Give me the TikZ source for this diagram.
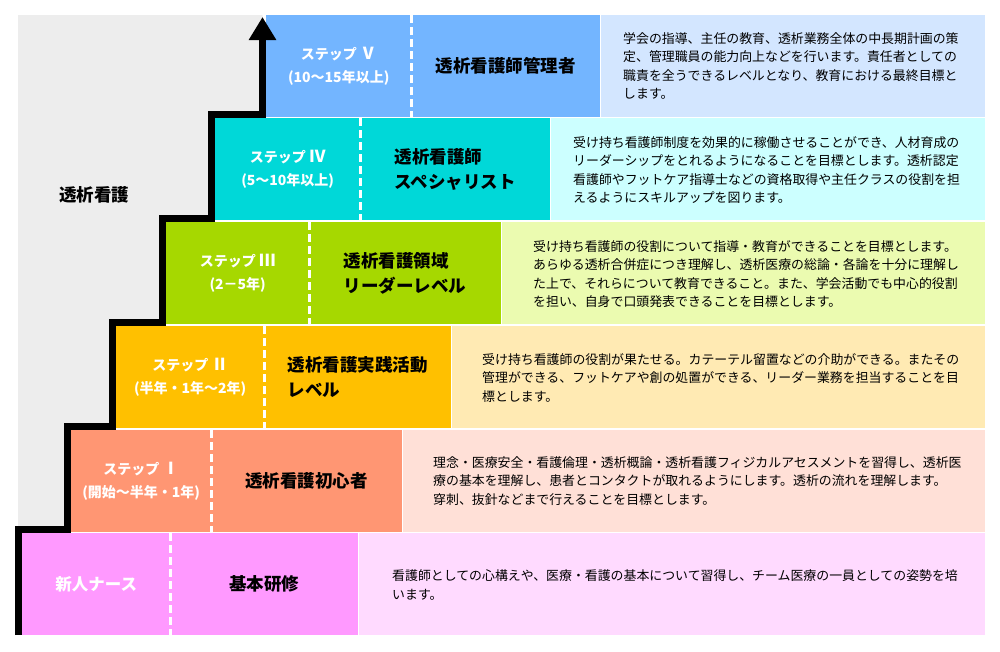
\documentclass[tikz,border=0pt]{standalone}
\usepackage{fontspec}
\setmainfont{Noto Sans CJK JP}
\usetikzlibrary{arrows.meta}
\definecolor{bgrey}{HTML}{EDEDED}
\definecolor{cfive}{HTML}{73B5FF}
\definecolor{dfive}{HTML}{D3E6FF}
\definecolor{cfour}{HTML}{00D8D8}
\definecolor{dfour}{HTML}{CCFFFF}
\definecolor{cthree}{HTML}{A6D800}
\definecolor{dthree}{HTML}{EBFBB0}
\definecolor{ctwo}{HTML}{FFC000}
\definecolor{dtwo}{HTML}{FFEAB3}
\definecolor{cone}{HTML}{FF9673}
\definecolor{done}{HTML}{FFE0D7}
\definecolor{cnew}{HTML}{FF99FF}
\definecolor{dnew}{HTML}{FFDAFF}
\newcommand\stepnum[1]{{\fontsize{16.5}{23}\selectfont #1}}
\tikzset{
	box/.style={anchor=north west,inner sep=0pt,minimum height=102pt},
	steplabel/.style={box,text=white,font=\bfseries\fontsize{14}{23}\selectfont,align=center},
	titletext/.style={box,font=\bfseries\fontsize{17.5}{25}\selectfont,align=left},
	desc/.style={anchor=west,inner sep=0pt,font=\fontsize{12.9}{18.5}\selectfont,align=left},
	divider/.style={white,line width=2.5pt,dash pattern=on 8pt off 4pt},
}
\begin{document}
\begin{tikzpicture}[x=1pt,y=-1pt]
	\useasboundingbox (0,0) rectangle (1000,651);
	\fill[bgrey] (18,15) -- (262.5,15) -- (262.5,114.5) -- (211.5,114.5) -- (211.5,218.5) -- (162.5,218.5) -- (162.5,322.5) -- (112.5,322.5) -- (112.5,426.5) -- (67.5,426.5) -- (67.5,529.5) -- (18,529.5) -- cycle;
	\node[titletext,anchor=center,minimum height=0pt] (area) at (94,195) {透析看護};
	% step V
	\node[steplabel,fill=cfive,minimum width=145pt] (s5lab) at (266,15) {ステップ \stepnum{Ⅴ}\\(10〜15年以上)};
	\node[titletext,fill=cfive,minimum width=189pt] (s5ttl) at (411,15) {透析看護師管理者};
	\node[box,fill=dfive,minimum width=384pt] (s5box) at (601,15) {};
	\node[desc] (s5txt) at (623,66) {学会の指導、主任の教育、透析業務全体の中長期計画の策\\定、管理職員の能力向上などを行います。責任者としての\\職責を全うできるレベルとなり、教育における最終目標と\\します。};
	% step IV
	\node[steplabel,fill=cfour,minimum width=145pt] (s4lab) at (215,118) {ステップ \stepnum{Ⅳ}\\(5〜10年以上)};
	\node[titletext,fill=cfour,minimum width=190pt] (s4ttl) at (360,118) {透析看護師\\スペシャリスト};
	\node[box,fill=dfour,minimum width=434pt] (s4box) at (551,118) {};
	\node[desc] (s4txt) at (573,170) {受け持ち看護師制度を効果的に稼働させることができ、人材育成の\\リーダーシップをとれるようになることを目標とします。透析認定\\看護師やフットケア指導士などの資格取得や主任クラスの役割を担\\えるようにスキルアップを図ります。};
	% step III
	\node[steplabel,fill=cthree,minimum width=143pt] (s3lab) at (166,222) {ステップ \stepnum{Ⅲ}\\(2－5年)};
	\node[titletext,fill=cthree,minimum width=192pt] (s3ttl) at (309,222) {透析看護領域\\リーダーレベル};
	\node[box,fill=dthree,minimum width=483pt] (s3box) at (502,222) {};
	\node[desc] (s3txt) at (533,274) {受け持ち看護師の役割について指導・教育ができることを目標とします。\\あらゆる透析合併症につき理解し、透析医療の総論・各論を十分に理解し\\た上で、それらについて教育できること。また、学会活動でも中心的役割\\を担い、自身で口頭発表できることを目標とします。};
	% step II
	\node[steplabel,fill=ctwo,minimum width=148pt] (s2lab) at (116,326) {ステップ \stepnum{Ⅱ}\\(半年・1年〜2年)};
	\node[titletext,fill=ctwo,minimum width=187pt] (s2ttl) at (264,326) {透析看護実践活動\\レベル};
	\node[box,fill=dtwo,minimum width=533pt] (s2box) at (452,326) {};
	\node[desc] (s2txt) at (482,378) {受け持ち看護師の役割が果たせる。カテーテル留置などの介助ができる。またその\\管理ができる、フットケアや創の処置ができる、リーダー業務を担当することを目\\標とします。};
	% step I
	\node[steplabel,fill=cone,minimum width=140pt] (s1lab) at (71,430) {ステップ \stepnum{Ⅰ}\\(開始〜半年・1年)};
	\node[titletext,fill=cone,minimum width=191pt] (s1ttl) at (211,430) {透析看護初心者};
	\node[box,fill=done,minimum width=582pt] (s1box) at (403,430) {};
	\node[desc] (s1txt) at (433,481) {理念・医療安全・看護倫理・透析概論・透析看護フィジカルアセスメントを習得し、透析医\\療の基本を理解し、患者とコンタクトが取れるようにします。透析の流れを理解します。\\穿刺、抜針などまで行えることを目標とします。};
	% new nurse
	\node[steplabel,fill=cnew,minimum width=148pt,font=\bfseries\fontsize{16.5}{23}\selectfont] (s0lab) at (22,533) {新人ナース};
	\node[titletext,fill=cnew,minimum width=188pt] (s0ttl) at (170,533) {基本研修};
	\node[box,fill=dnew,minimum width=626pt] (s0box) at (359,533) {};
	\node[desc] (s0txt) at (392,585) {看護師としての心構えや、医療・看護の基本について習得し、チーム医療の一員としての姿勢を培\\います。};
	% dividers
	\draw[divider] (s5lab.north east) -- (s5lab.south east);
	\draw[divider] (s4lab.north east) -- (s4lab.south east);
	\draw[divider] (s3lab.north east) -- (s3lab.south east);
	\draw[divider] (s2lab.north east) -- (s2lab.south east);
	\draw[divider] (s1lab.north east) -- (s1lab.south east);
	\draw[divider] (s0lab.north east) -- (s0lab.south east);
	% staircase
	\draw[black,line width=7pt,-{Triangle[width=26pt,length=23pt]}] (18.5,635) -- (18.5,529.5) -- (67.5,529.5) -- (67.5,426.5) -- (112.5,426.5) -- (112.5,322.5) -- (162.5,322.5) -- (162.5,218.5) -- (211.5,218.5) -- (211.5,114.5) -- (262.5,114.5) -- (262.5,17);
\end{tikzpicture}
\end{document}
